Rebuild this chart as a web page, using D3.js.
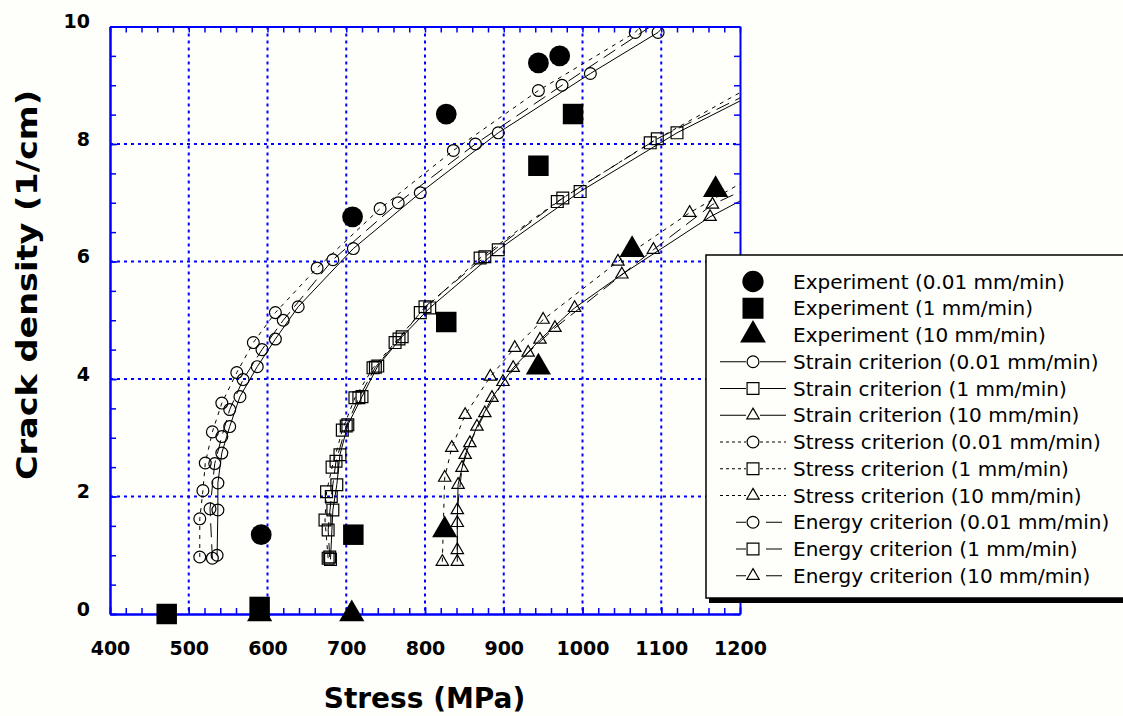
<!DOCTYPE html>
<html>
<head>
<meta charset="utf-8">
<script src="https://cdn.jsdelivr.net/npm/d3@7"></script>
<style>
body { margin: 0; background: #fefefa; }
svg { display: block; }
</style>
</head>
<body>
<div id="chart"></div>
<script>
// values: [stress (MPa), crack density (1/cm)]
const xTickLabels = [400, 500, 600, 700, 800, 900, 1000, 1100, 1200];
const yTickLabels = [0, 2, 4, 6, 8, 10];

const expCircle = [[592,1.35],[708,6.76],[827,8.51],[944,9.38],[971,9.5]];
const expSquare = [[472,0],[590,0.12],[709,1.35],[827,4.97],[944,7.63],[988,8.51]];
const expTriangle = [[590,0],[707,0],[825,1.43],[944,4.2],[1063,6.2],[1169,7.22]];

const strain001 = [[536,1.0],[537,1.77],[537,2.23],[542,2.74],[552,3.19],[565,3.7],[587,4.21],[610,4.68],[639,5.23],[709,6.22],[794,7.17],[893,8.19],[1010,9.2],[1096,9.9],[1110,10.1]];
const strain1 = [[680,0.93],[683,1.77],[688,2.2],[692,2.71],[702,3.22],[720,3.7],[740,4.22],[771,4.72],[806,5.21],[893,6.2],[997,7.19],[1120,8.19],[1210,8.8]];
const strain10 = [[841,0.89],[841,1.55],[842,2.2],[851,2.71],[866,3.19],[885,3.68],[912,4.19],[946,4.67],[990,5.21],[1050,5.78],[1162,6.76],[1210,7.1]];

const stress001 = [[514,0.97],[514,1.62],[518,2.1],[521,2.57],[530,3.1],[542,3.59],[561,4.11],[582,4.62],[610,5.13],[663,5.89],[743,6.9],[836,7.89],[944,8.91],[1067,9.9],[1080,10.1]];
const stress1 = [[677,0.95],[673,1.6],[675,2.08],[682,2.5],[695,3.13],[711,3.68],[734,4.19],[762,4.62],[794,5.13],[870,6.06],[968,7.02],[1086,8.02],[1210,8.95]];
const stress10 = [[822,0.89],[825,2.32],[834,2.83],[851,3.39],[883,4.04],[914,4.53],[950,5.01],[1045,6.0],[1136,6.83],[1210,7.4]];

const energy001 = [[530,0.95],[527,1.79],[533,2.56],[542,3.02],[552,3.48],[569,3.99],[593,4.5],[620,5.0],[683,6.03],[766,7.0],[864,8.0],[974,9.0],[1100,10.12]];
const energy1 = [[679,0.97],[677,1.43],[681,2.0],[687,2.6],[700,3.2],[716,3.68],[737,4.2],[767,4.68],[800,5.23],[876,6.08],[975,7.08],[1095,8.09],[1210,8.85]];
const energy10 = [[841,1.09],[841,1.77],[847,2.49],[857,2.91],[876,3.42],[899,3.95],[931,4.45],[965,4.87],[1090,6.2],[1165,6.97],[1210,7.25]];

const legendLabels = [
    "Experiment (0.01 mm/min)", "Experiment (1 mm/min)", "Experiment (10 mm/min)",
    "Strain criterion (0.01 mm/min)", "Strain criterion (1 mm/min)", "Strain criterion (10 mm/min)",
    "Stress criterion (0.01 mm/min)", "Stress criterion (1 mm/min)", "Stress criterion (10 mm/min)",
    "Energy criterion (0.01 mm/min)", "Energy criterion (1 mm/min)", "Energy criterion (10 mm/min)"
];

const width = 1123, height = 716;
const plotLeft = 110, plotRight = 740, plotTop = 26.5, plotBottom = 614;
const blue = "#0000ff";

let svg = d3.select("#chart").append("svg")
    .attr("width", width)
    .attr("height", height);

let x = d3.scaleLinear().domain([400, 1200]).range([plotLeft, plotRight]);
let y = d3.scaleLinear().domain([0, 10]).range([plotBottom, plotTop]);

svg.append("defs").append("clipPath")
    .attr("id", "plot-clip")
    .append("rect")
    .attr("x", plotLeft).attr("y", plotTop)
    .attr("width", plotRight - plotLeft).attr("height", plotBottom - plotTop);

// dotted grid
let grid = svg.append("g")
    .attr("stroke", blue)
    .attr("stroke-width", 2)
    .attr("stroke-dasharray", "3,4");
grid.selectAll(".vgrid")
    .data(xTickLabels.slice(1, -1))
    .join("line")
    .attr("class", "vgrid")
    .attr("x1", d => x(d)).attr("x2", d => x(d))
    .attr("y1", plotTop).attr("y2", plotBottom);
grid.selectAll(".hgrid")
    .data(yTickLabels.slice(1, -1))
    .join("line")
    .attr("class", "hgrid")
    .attr("x1", plotLeft).attr("x2", plotRight)
    .attr("y1", d => y(d)).attr("y2", d => y(d));

// model curves
let symbols = {circle: d3.symbolCircle, square: d3.symbolSquare, triangle: d3.symbolTriangle};
let smallSize = {circle: 110, square: 140, triangle: 66};
let bigSize = {circle: 340, square: 420, triangle: 275};
let dashes = {strain: null, stress: "4,5", energy: "14,7"};

let curves = [
    {data: strain001, shape: "circle", kind: "strain"},
    {data: strain1, shape: "square", kind: "strain"},
    {data: strain10, shape: "triangle", kind: "strain"},
    {data: stress001, shape: "circle", kind: "stress"},
    {data: stress1, shape: "square", kind: "stress"},
    {data: stress10, shape: "triangle", kind: "stress"},
    {data: energy001, shape: "circle", kind: "energy"},
    {data: energy1, shape: "square", kind: "energy"},
    {data: energy10, shape: "triangle", kind: "energy"}
];

let line = d3.line().x(d => x(d[0])).y(d => y(d[1]));
let curveG = svg.append("g").attr("clip-path", "url(#plot-clip)");

curves.forEach(c => {
    curveG.append("path")
        .attr("d", line(c.data))
        .attr("fill", "none")
        .attr("stroke", "#000")
        .attr("stroke-width", 1)
        .attr("stroke-dasharray", dashes[c.kind]);
    curveG.append("g").selectAll("path")
        .data(c.data)
        .join("path")
        .attr("transform", d => "translate(" + x(d[0]) + "," + y(d[1]) + ")")
        .attr("d", d3.symbol().type(symbols[c.shape]).size(smallSize[c.shape]))
        .attr("fill", "none")
        .attr("stroke", "#000")
        .attr("stroke-width", 1.2);
});

// axes, ticks point inward on all four sides
function styleAxis(g) {
    g.select(".domain").attr("stroke", blue).attr("stroke-width", 2);
    g.selectAll(".tick line").attr("stroke", blue).attr("stroke-width", 1.5);
    g.selectAll("text")
        .attr("fill", "#000")
        .style("font-family", "'DejaVu Sans', sans-serif")
        .style("font-weight", "bold")
        .style("font-size", "19px");
}
let xMinor = d3.range(400, 1201, 20);
let yMinor = d3.range(0, 10.01, 0.5);

svg.append("g").attr("transform", "translate(0," + plotBottom + ")")
    .call(d3.axisBottom(x).tickValues(xMinor).tickSize(-6).tickSizeOuter(0).tickFormat(""))
    .call(styleAxis);
svg.append("g").attr("transform", "translate(0," + plotBottom + ")")
    .call(d3.axisBottom(x).tickValues(xTickLabels).tickSize(-7).tickSizeOuter(0).tickPadding(41).tickFormat(d3.format("d")))
    .call(styleAxis)
    .selectAll("text").attr("dy", 0);
svg.append("g").attr("transform", "translate(0," + plotTop + ")")
    .call(d3.axisTop(x).tickValues(xMinor).tickSize(-6).tickSizeOuter(0).tickFormat(""))
    .call(styleAxis);
svg.append("g").attr("transform", "translate(" + plotLeft + ",0)")
    .call(d3.axisLeft(y).tickValues(yMinor).tickSize(-6).tickSizeOuter(0).tickFormat(""))
    .call(styleAxis);
svg.append("g").attr("transform", "translate(" + plotLeft + ",0)")
    .call(d3.axisLeft(y).tickValues(yTickLabels).tickSize(-7).tickSizeOuter(0).tickPadding(20).tickFormat(d3.format("d")))
    .call(styleAxis)
    .selectAll("text").attr("y", -5);
svg.append("g").attr("transform", "translate(" + plotRight + ",0)")
    .call(d3.axisRight(y).tickValues(yMinor).tickSize(-6).tickSizeOuter(0).tickFormat(""))
    .call(styleAxis);

// axis titles
svg.append("text")
    .attr("x", 424.5).attr("y", 708)
    .attr("text-anchor", "middle")
    .style("font-family", "'DejaVu Sans', sans-serif")
    .style("font-weight", "bold")
    .style("font-size", "28px")
    .text("Stress (MPa)");
svg.append("text")
    .attr("transform", "translate(37,285) rotate(-90)")
    .attr("text-anchor", "middle")
    .attr("textLength", 390)
    .attr("lengthAdjust", "spacingAndGlyphs")
    .style("font-family", "'DejaVu Sans', sans-serif")
    .style("font-weight", "bold")
    .style("font-size", "28px")
    .text("Crack density (1/cm)");

// experiments (filled)
let experiments = [
    {data: expTriangle, shape: "triangle"},
    {data: expSquare, shape: "square"},
    {data: expCircle, shape: "circle"}
];
experiments.forEach(e => {
    svg.append("g").selectAll("path")
        .data(e.data)
        .join("path")
        .attr("transform", d => "translate(" + x(d[0]) + "," + y(d[1]) + ")")
        .attr("d", d3.symbol().type(symbols[e.shape]).size(bigSize[e.shape]))
        .attr("fill", "#000");
});

// legend
let lg = svg.append("g");
lg.append("rect")
    .attr("x", 709).attr("y", 259)
    .attr("width", 430).attr("height", 344)
    .attr("fill", "#000");
lg.append("rect")
    .attr("x", 706).attr("y", 255)
    .attr("width", 430).attr("height", 343)
    .attr("fill", "#fefefa")
    .attr("stroke", "#000")
    .attr("stroke-width", 1.5);

let legendShapes = ["circle", "square", "triangle"];
let legendKinds = ["exp", "strain", "stress", "energy"];
let rowY = i => 288.5 + i * 26.75;

legendLabels.forEach((label, i) => {
    let kind = legendKinds[Math.floor(i / 3)];
    let shape = legendShapes[i % 3];
    let cy = rowY(i) - 7;
    if (kind == "exp") {
        lg.append("path")
            .attr("transform", "translate(753," + cy + ")")
            .attr("d", d3.symbol().type(symbols[shape]).size(bigSize[shape] * 1.05))
            .attr("fill", "#000");
    } else {
        let x0 = kind == "energy" ? 736 : 720;
        lg.append("line")
            .attr("x1", x0).attr("x2", 746)
            .attr("y1", cy).attr("y2", cy)
            .attr("stroke", "#000")
            .attr("stroke-dasharray", kind == "stress" ? "3,3" : null);
        lg.append("line")
            .attr("x1", kind == "energy" ? 766 : 760).attr("x2", kind == "energy" ? 782 : 786)
            .attr("y1", cy).attr("y2", cy)
            .attr("stroke", "#000")
            .attr("stroke-dasharray", kind == "stress" ? "3,3" : null);
        lg.append("path")
            .attr("transform", "translate(753," + cy + ")")
            .attr("d", d3.symbol().type(symbols[shape]).size(smallSize[shape]))
            .attr("fill", "none")
            .attr("stroke", "#000")
            .attr("stroke-width", 1.2);
    }
    lg.append("text")
        .attr("x", 793).attr("y", rowY(i))
        .style("font-family", "'DejaVu Sans', sans-serif")
        .style("font-size", "20px")
        .attr("fill", "#000")
        .text(label);
});
</script>
</body>
</html>
